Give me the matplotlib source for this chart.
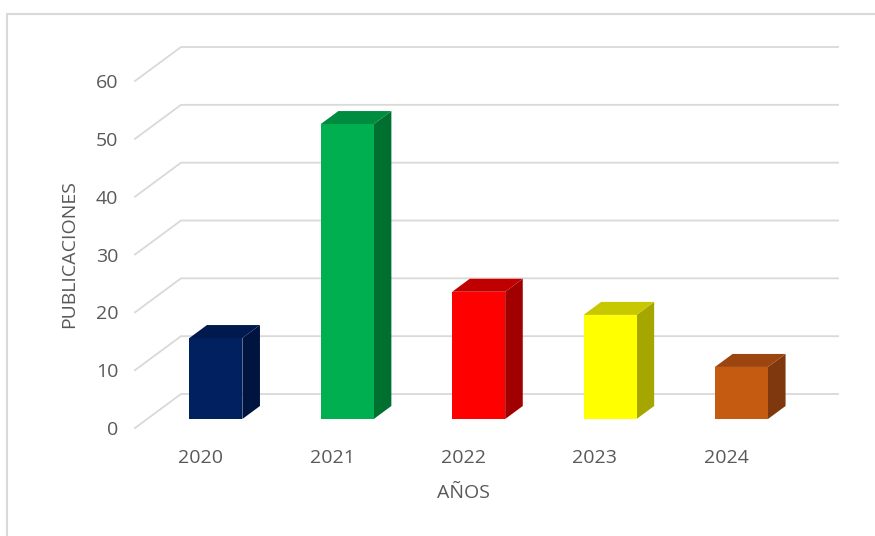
import matplotlib.pyplot as plt
from matplotlib.patches import Polygon, Rectangle
from matplotlib.lines import Line2D

# data
years = ['2020', '2021', '2022', '2023', '2024']
publicaciones = [14, 51, 22, 18, 9]
front_colors = ['#002060', '#00b050', '#ff0000', '#ffff00', '#c55a11']
top_colors = ['#001a50', '#008c40', '#c00000', '#c8c800', '#9c4510']
side_colors = ['#001440', '#007030', '#a00000', '#a6a600', '#7f380d']
yticks = [0, 10, 20, 30, 40, 50, 60]

W, H = 875, 536
fig = plt.figure(figsize=(W / 100, H / 100), dpi=100)
plt.rcParams['font.family'] = ['Open Sans', 'DejaVu Sans']
txt = '#595959'
grid = '#d9d9d9'

# front plane of the 3d box, in pixels (from the picture)
left, right, y0px, y60px = 135, 792, 428, 81
ax = fig.add_axes([left / W, (H - y0px) / H, (right - left) / W, (y0px - y60px) / H])
ax.set_xlim(-0.5, 4.5)
ax.set_ylim(0, 60)
for s in ax.spines.values():
    s.set_visible(False)
ax.patch.set_visible(False)

# depth of the box in data units (46 px right, 34 px up)
px_x = (right - left) / 5
px_y = (y0px - y60px) / 60
DX = 46 / px_x
DY = 34 / px_y

# gridlines: diagonal on the left wall, then along the back wall
for v in yticks:
    ax.add_line(Line2D([-0.5, -0.5 + DX, 4.5 + DX], [v, v + DY, v + DY],
                       color=grid, lw=1.3, clip_on=False, zorder=1))

# 3d-looking bars
f0 = 9 / 34      # where the bar front sits inside the box
d = 13 / 34      # bar depth
bw = 53 / px_x
shift = 3 / px_x
for i, v in enumerate(publicaciones):
    x0 = i - bw / 2 + f0 * DX + shift
    x1 = x0 + bw
    b = f0 * DY
    t = v + f0 * DY
    ddx, ddy = d * DX, d * DY
    ax.add_patch(Polygon([(x1, b), (x1 + ddx, b + ddy), (x1 + ddx, t + ddy), (x1, t)],
                         closed=True, fc=side_colors[i], ec='none', clip_on=False, zorder=3))
    ax.add_patch(Polygon([(x0, t), (x1, t), (x1 + ddx, t + ddy), (x0 + ddx, t + ddy)],
                         closed=True, fc=top_colors[i], ec='none', clip_on=False, zorder=3))
    ax.add_patch(Rectangle((x0, b), bw, v, fc=front_colors[i], ec='none',
                           clip_on=False, zorder=4))

ax.set_yticks(yticks)
ax.set_xticks(range(len(years)))
ax.set_xticklabels(years)
ax.tick_params(axis='y', length=0, pad=12, labelsize=14, labelcolor=txt)
ax.tick_params(axis='x', length=0, pad=15, labelsize=14, labelcolor=txt)
ax.set_xlabel('AÑOS', fontsize=14, color=txt, labelpad=12)
ax.set_ylabel('PUBLICACIONES', fontsize=14, color=txt, labelpad=13)

# light chart border
fig.add_artist(Rectangle((7 / W, -0.05), 1.1, (H - 14) / H + 0.05, transform=fig.transFigure,
                         fill=False, ec='#d9d9d9', lw=1.5))

fig.savefig('out.png', dpi=100)
